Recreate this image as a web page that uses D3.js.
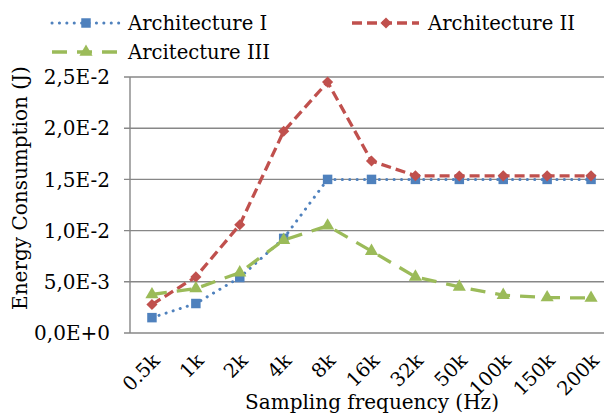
<!DOCTYPE html>
<html><head><meta charset="utf-8">
<script src="https://cdn.jsdelivr.net/npm/d3@7"></script>
<style>body{margin:0;background:#fff}svg{display:block}text{font-family:"DejaVu Serif",serif;fill:#000}</style>
</head><body><svg id="c" width="604" height="419"></svg>
<script>
const categories = ["0.5k","1k","2k","4k","8k","16k","32k","50k","100k","150k","200k"];
const archI   = [1.50e-3, 2.88e-3, 5.42e-3, 9.24e-3, 15.0e-3, 15.0e-3, 15.0e-3, 15.0e-3, 15.0e-3, 15.0e-3, 15.0e-3];
const archII  = [2.78e-3, 5.48e-3, 10.57e-3, 19.7e-3, 24.5e-3, 16.8e-3, 15.36e-3, 15.33e-3, 15.35e-3, 15.35e-3, 15.35e-3];
const archIII = [3.76e-3, 4.34e-3, 5.90e-3, 9.07e-3, 10.47e-3, 8.0e-3, 5.48e-3, 4.5e-3, 3.69e-3, 3.46e-3, 3.42e-3];
const seriesNames = ["Architecture I","Architecture II","Arcitecture III"];
const yTicks = [0, 5e-3, 10e-3, 15e-3, 20e-3, 25e-3];
const yTickLabels = ["0,0E+0","5,0E-3","1,0E-2","1,5E-2","2,0E-2","2,5E-2"];

const svg = d3.select("#c");
const x = d3.scaleBand().domain(categories).range([130, 613]);
const y = d3.scaleLinear().domain([0, 0.025]).range([333, 77]);

// gridlines
svg.append("g").selectAll("line").data(yTicks).join("line")
  .attr("x1", 124).attr("x2", 604)
  .attr("y1", d => y(d)).attr("y2", d => y(d))
  .attr("stroke", "#878787").attr("stroke-width", 1.4);
svg.append("line").attr("x1",130).attr("x2",130).attr("y1",y(0.025)).attr("y2",y(0))
  .attr("stroke","#878787").attr("stroke-width",1.4);

// y labels
svg.append("g").selectAll("text").data(yTicks).join("text")
  .attr("x", 110).attr("y", d => y(d)).attr("dy","0.36em")
  .attr("text-anchor","end").attr("font-size",20)
  .text((d,i)=>yTickLabels[i]);

// x labels
svg.append("g").selectAll("text").data(categories).join("text")
  .attr("transform", d => `translate(${x(d)+x.bandwidth()/2+9},${362}) rotate(-45)`)
  .attr("text-anchor","end").attr("font-size",19.5)
  .text(d=>d);

svg.append("text").attr("x",372).attr("y",409).attr("text-anchor","middle").attr("font-size",20)
  .text("Sampling frequency (Hz)");
svg.append("text").attr("transform","translate(27,188) rotate(-90)").attr("text-anchor","middle").attr("font-size",20)
  .text("Energy Consumption (J)");

const cx = c => x(c) + x.bandwidth()/2;
const diamond = d3.symbol().type(d3.symbolSquare).size(62);
const styles = [
  {color:"#4F81BD", dash:"0.1 7.3", cap:"round", w:3, sym:d3.symbol().type(d3.symbolSquare).size(90), rot:0},
  {color:"#C0504D", dash:"10 5", cap:"butt", w:3.3, sym:diamond, rot:45},
  {color:"#9BBB59", dash:"15 10", cap:"butt", w:3.3, sym:d3.symbol().type(d3.symbolTriangle).size(75), rot:0},
];
const data = [archI, archII, archIII];
const line = d3.line().x((d,i)=>cx(categories[i])).y(d=>y(d));
data.forEach((vals, k) => {
  const s = styles[k];
  svg.append("path").attr("d", line(vals)).attr("fill","none")
    .attr("stroke", s.color).attr("stroke-width", s.w)
    .attr("stroke-dasharray", s.dash).attr("stroke-linecap", s.cap);
  svg.append("g").selectAll("path").data(vals).join("path")
    .attr("d", s.sym())
    .attr("transform",(d,i)=>`translate(${cx(categories[i])},${y(d)}) rotate(${s.rot})`)
    .attr("fill", s.color);
});

// legend
const legPos = [{x:52,y:23},{x:352,y:23},{x:52,y:52}];
legPos.forEach((p,k)=>{
  const s = styles[k];
  const g = svg.append("g");
  g.append("line").attr("x1",p.x).attr("x2",p.x+67).attr("y1",p.y).attr("y2",p.y)
    .attr("stroke",s.color).attr("stroke-width",s.w).attr("stroke-dasharray",s.dash).attr("stroke-linecap",s.cap);
  g.append("path").attr("d", s.sym()).attr("transform",`translate(${p.x+34},${p.y}) rotate(${s.rot})`).attr("fill",s.color);
  g.append("text").attr("x",p.x+76).attr("y",p.y+7).attr("font-size",19.6).text(seriesNames[k]);
});
</script></body></html>
